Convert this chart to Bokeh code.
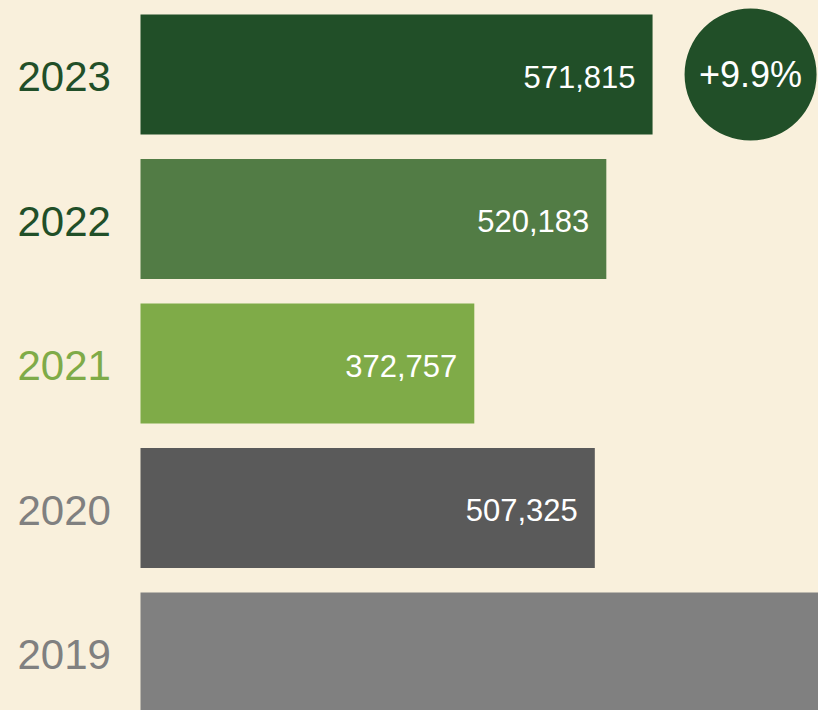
from bokeh.plotting import figure
from bokeh.models import ColumnDataSource, Range1d
from bokeh.core.properties import value
from bokeh.embed import file_html
from bokeh.resources import INLINE

# ---- data ----
years = ["2023", "2022", "2021", "2020", "2019"]
visitors = [571815, 520183, 372757, 507325, 800000]
value_labels = ["571,815", "520,183", "372,757", "507,325", ""]
bar_colors = ["#214F28", "#527C45", "#7FAB48", "#5A5A5A", "#808080"]
year_colors = ["#214F28", "#214F28", "#7FAB48", "#808080", "#808080"]

BG = "#F9F0DC"
FONT = "Liberation Sans"

n = len(years)
rows = [n - 1 - i for i in range(n)]  # 2023 on top

src = ColumnDataSource(dict(
    year=years, v=visitors, lab=value_labels, bc=bar_colors, yc=year_colors, row=rows,
))

W, H = 818, 710
px_per_unit = 0.0008955
x0_px = 140
row_px = 144.5
top_px = 74

p = figure(width=W, height=H, output_backend="svg", toolbar_location=None,
           x_range=Range1d(-x0_px / px_per_unit, (W - x0_px) / px_per_unit),
           y_range=Range1d((n - 1) + top_px / row_px - H / row_px, (n - 1) + top_px / row_px),
           min_border=0, outline_line_color=None,
           background_fill_color=BG, border_fill_color=BG)
p.axis.visible = False
p.grid.visible = False

p.hbar(y="row", left=0, right="v", height=0.83, fill_color="bc", line_color=None, source=src)

p.text(x=0, y="row", text="year", text_color="yc", text_font=value(FONT),
       text_font_size="42px", text_align="left", text_baseline="middle",
       x_offset=-123, y_offset=2, source=src)

p.text(x="v", y="row", text="lab", text_color="white", text_font=value(FONT),
       text_font_size="31px", text_align="right", text_baseline="middle",
       x_offset=-17, y_offset=2, source=src)

# growth badge
growth = (visitors[0] / visitors[1] - 1) * 100
badge_x = visitors[0] + 98 / px_per_unit
badge = ColumnDataSource(dict(x=[badge_x], y=[rows[0]], t=[f"+{growth:.1f}%"]))
p.scatter(x="x", y="y", size=132, marker="circle", fill_color="#214F28",
          line_color=None, source=badge)
p.text(x="x", y="y", text="t", text_color="white", text_font=value(FONT),
       text_font_size="36px", text_align="center", text_baseline="middle",
       y_offset=0, source=badge)

html = file_html(p, INLINE)
html = html.replace("<head>", "<head><style>body{background:%s;}</style>" % BG, 1)
open("out.html", "w").write(html)
